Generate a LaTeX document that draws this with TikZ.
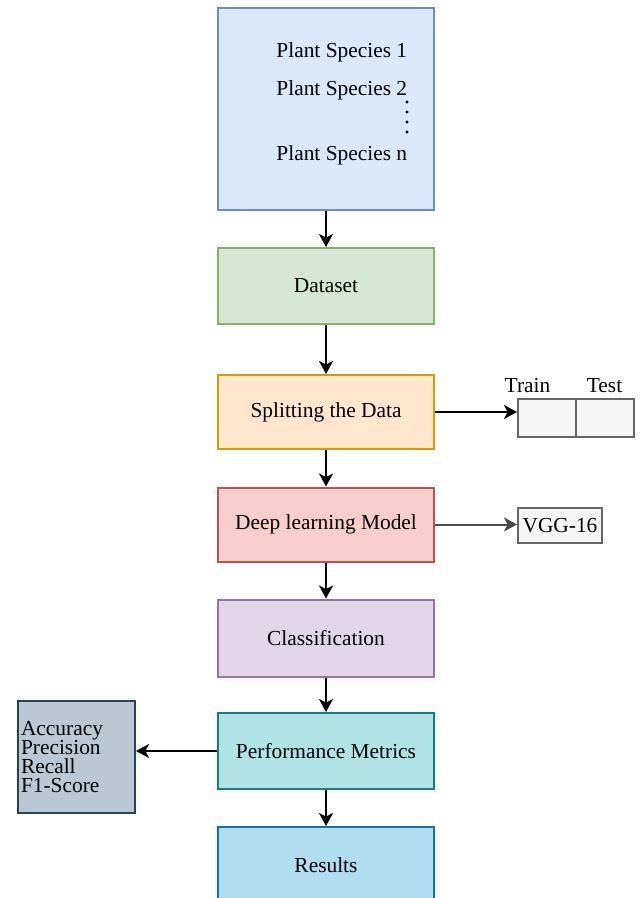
\documentclass[tikz,border=0pt]{standalone}
\usepackage{fontspec}
\setmainfont{Liberation Serif}
\usetikzlibrary{arrows.meta}
\definecolor{bluefill}{HTML}{DAE8FC}\definecolor{blueline}{HTML}{6C8EBF}
\definecolor{greenfill}{HTML}{D5E8D4}\definecolor{greenline}{HTML}{82B366}
\definecolor{orangefill}{HTML}{FFE6CC}\definecolor{orangeline}{HTML}{D79B00}
\definecolor{redfill}{HTML}{F8CECC}\definecolor{redline}{HTML}{B85450}
\definecolor{purplefill}{HTML}{E1D5E7}\definecolor{purpleline}{HTML}{9673A6}
\definecolor{tealfill}{HTML}{B0E3E6}\definecolor{tealline}{HTML}{0E8088}
\definecolor{resfill}{HTML}{B1DDF0}\definecolor{resline}{HTML}{10739E}
\definecolor{metfill}{HTML}{BAC8D3}\definecolor{metline}{HTML}{23445D}
\definecolor{grayfill}{HTML}{F5F5F5}\definecolor{grayline}{HTML}{666666}
\begin{document}
\begin{tikzpicture}[x=0.5pt,y=-0.5pt,
  every node/.style={font=\fontsize{10.7}{9.5}\selectfont},
  box/.style={draw,line width=1pt,minimum width=108pt,inner sep=0pt},
  cell/.style={draw=grayline,fill=grayfill,line width=1pt,inner sep=0pt},
  link/.style={-{Stealth[length=6.5pt,width=7pt,inset=1.8pt]},line width=1pt}]
\useasboundingbox (0,0) rectangle (639,898);
% main column
\node[box,draw=blueline,fill=bluefill,minimum height=101pt] (species) at (326,109) {};
\node[anchor=west,inner sep=0pt] (sp1) at (276,52) {Plant Species 1};
\node[anchor=west,inner sep=0pt] (sp2) at (276,90) {Plant Species 2};
\node[anchor=west,inner sep=0pt] (spn) at (276,155) {Plant Species n};
\foreach \y in {102,112,122,132}
    \fill (407,\y) circle (0.8pt);
\node[box,draw=greenline,fill=greenfill,minimum height=38pt] (dataset) at (326,286) {Dataset};
\node[box,draw=orangeline,fill=orangefill,minimum height=37pt] (split) at (326,412) {Splitting the Data};
\node[box,draw=redline,fill=redfill,minimum height=37pt] (deep) at (326,524.5) {Deep learning Model};
\node[box,draw=purpleline,fill=purplefill,minimum height=38.5pt] (classif) at (326,638) {Classification};
\node[box,draw=tealline,fill=tealfill,minimum height=38pt] (perf) at (326,751) {Performance Metrics};
\node[box,draw=resline,fill=resfill,minimum height=38pt] (results) at (326,865) {Results};
% side boxes
\node[cell,minimum width=29pt,minimum height=19pt] (train) at (547,418) {};
\node[cell,minimum width=29pt,minimum height=19pt] (test) at (605,418) {};
\node (trainlbl) at (527.5,386) {Train};
\node (testlbl) at (604.5,386) {Test};
\node[cell,minimum width=42pt,minimum height=17.5pt] (vgg) at (560,525.5) {VGG-16};
\node[draw=metline,fill=metfill,line width=1pt,text width=55.5pt,inner xsep=1.5pt,
    minimum height=56pt,align=left] (metrics) at (76.5,757) {Accuracy\\Precision\\Recall\\F1-Score};
% connectors
\draw[link] (species) -- (dataset);
\draw[link] (dataset) -- (split);
\draw[link] (split) -- (deep);
\draw[link] (deep) -- (classif);
\draw[link] (classif) -- (perf);
\draw[link] (perf) -- (results);
\draw[link] (split.east) -- (split.east -| train.west);
\draw[link,draw=black!70] (deep.east) -- (deep.east -| vgg.west);
\draw[link] (perf.west) -- (perf.west -| metrics.east);
\end{tikzpicture}
\end{document}
